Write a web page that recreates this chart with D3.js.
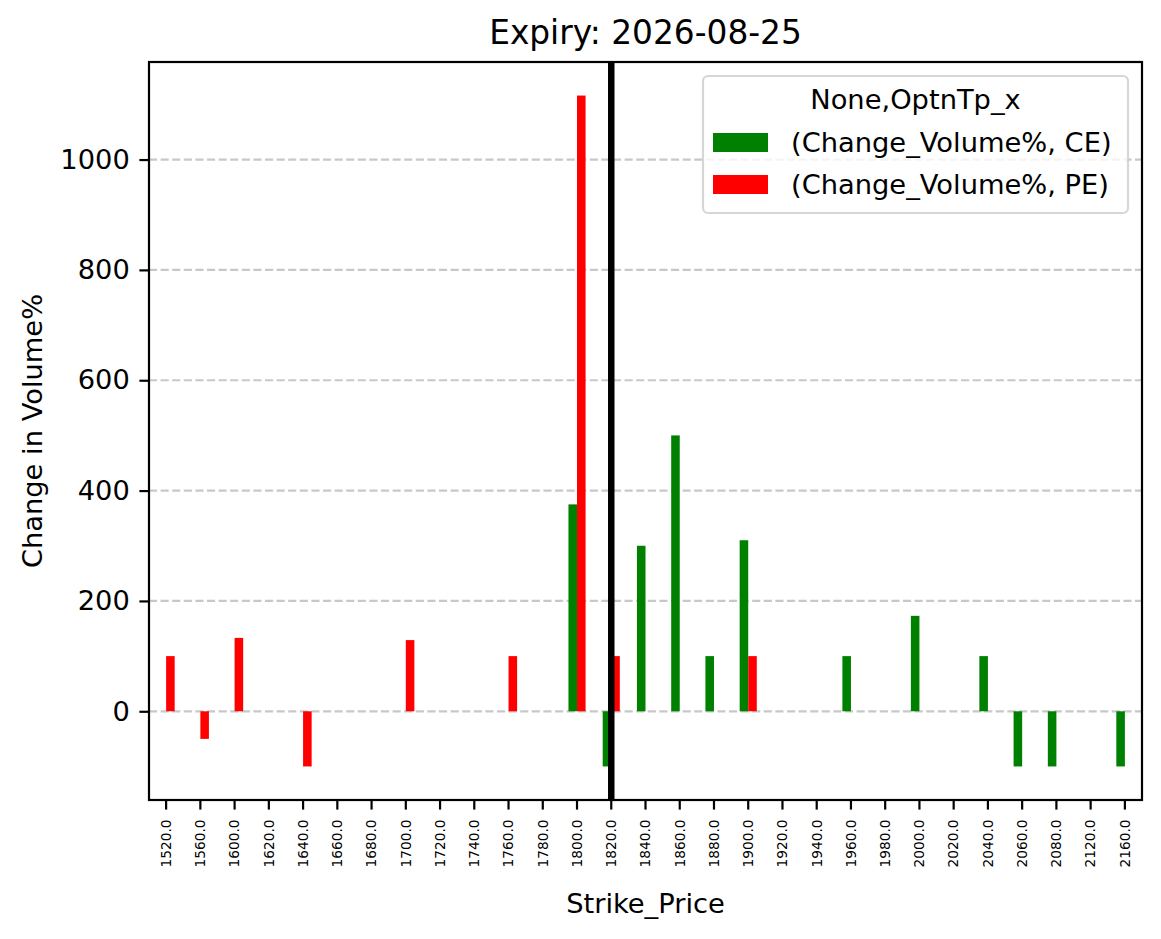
<!DOCTYPE html>
<html>
<head>
<meta charset="utf-8">
<script src="https://cdn.jsdelivr.net/npm/d3@7"></script>
<style>
  html, body { margin: 0; padding: 0; background: #ffffff; }
  svg { display: block; font-family: "DejaVu Sans", sans-serif; }
</style>
</head>
<body>
<svg id="chart" width="1161" height="939"></svg>
<script>
// ---- data ----
const strikes = ["1520.0","1560.0","1600.0","1620.0","1640.0","1660.0","1680.0","1700.0","1720.0","1740.0",
  "1760.0","1780.0","1800.0","1820.0","1840.0","1860.0","1880.0","1900.0","1920.0","1940.0",
  "1960.0","1980.0","2000.0","2020.0","2040.0","2060.0","2080.0","2120.0","2160.0"];
const ceValues = [null,null,null,null,null,null,null,null,null,null,
  null,null,375,-100,300,500,100,310,null,null,
  100,null,173,null,100,-100,-100,null,-100];
const peValues = [100,-50,133,null,-100,null,null,129,null,null,
  100,null,1116,100,null,null,null,100,null,null,
  null,null,null,null,null,null,null,null,null];
const seriesNames = ["(Change_Volume%, CE)", "(Change_Volume%, PE)"];
const seriesKeys = ["CE", "PE"];
const seriesColors = ["#008000", "#ff0000"];
const yTicks = [0, 200, 400, 600, 800, 1000];
const spotStrike = "1820.0";
const titleText = "Expiry: 2026-08-25";
const xLabel = "Strike_Price";
const yLabel = "Change in Volume%";
const legendTitle = "None,OptnTp_x";

// ---- layout ----
const svg = d3.select("#chart");
const L = 149, R = 1142, T = 62, B = 800;

const x = d3.scaleBand().domain(strikes).range([L, R]).paddingInner(0).paddingOuter(0);
const bw = x.bandwidth();
const xi = d3.scaleBand().domain(seriesKeys).range([bw * 0.25, bw * 0.75]);

const allVals = ceValues.concat(peValues).filter(v => v !== null);
const [mn, mx] = d3.extent(allVals);
const pad = (mx - mn) * 0.05;
const y = d3.scaleLinear().domain([mn - pad, mx + pad]).range([B, T]);

// gridlines
const grid = svg.append("g");
yTicks.forEach(t => {
  grid.append("line")
    .attr("x1", L).attr("x2", R)
    .attr("y1", y(t)).attr("y2", y(t))
    .attr("stroke", "#b0b0b0").attr("stroke-opacity", 0.7)
    .attr("stroke-width", 2.2)
    .attr("stroke-dasharray", "8.1,3.5");
});

// bars
const rows = strikes.map((s, i) => ({ s, CE: ceValues[i], PE: peValues[i] }));
seriesKeys.forEach((k, si) => {
  svg.append("g").selectAll("rect")
    .data(rows.filter(r => r[k] !== null))
    .join("rect")
    .attr("x", d => x(d.s) + xi(k))
    .attr("width", xi.bandwidth())
    .attr("y", d => Math.min(y(d[k]), y(0)))
    .attr("height", d => Math.abs(y(d[k]) - y(0)))
    .attr("fill", seriesColors[si]);
});

// vertical spot line
const vx = x(spotStrike) + bw / 2;
svg.append("line")
  .attr("x1", vx).attr("x2", vx).attr("y1", T).attr("y2", B)
  .attr("stroke", "#000").attr("stroke-width", 6.5);

// y axis
const yAxis = d3.axisLeft(y).tickValues(yTicks).tickFormat(d3.format("d")).tickSize(9.6).tickPadding(9.6);
const gy = svg.append("g").attr("transform", `translate(${L},0)`).call(yAxis);
gy.select(".domain").remove();
gy.selectAll(".tick line").attr("stroke", "#000").attr("stroke-width", 2.2);
gy.selectAll(".tick text").attr("font-size", 27.3).attr("font-family", "DejaVu Sans").attr("fill", "#000");

// x axis
const xAxis = d3.axisBottom(x).tickSize(9.6).tickPadding(0);
const gx = svg.append("g").attr("transform", `translate(0,${B})`).call(xAxis);
gx.select(".domain").remove();
gx.selectAll(".tick line").attr("stroke", "#000").attr("stroke-width", 2.2);
gx.selectAll(".tick text")
  .attr("font-size", 13.7).attr("font-family", "DejaVu Sans").attr("fill", "#000")
  .attr("text-anchor", "end")
  .attr("transform", "translate(0,19.5) rotate(-90)")
  .attr("x", 0).attr("y", 0).attr("dy", "0.35em");

// frame
svg.append("rect")
  .attr("x", L).attr("y", T).attr("width", R - L).attr("height", B - T)
  .attr("fill", "none").attr("stroke", "#000").attr("stroke-width", 2.2);

// title & labels
svg.append("text").attr("x", (L + R) / 2).attr("y", 44)
  .attr("text-anchor", "middle").attr("font-size", 32.8).text(titleText);
svg.append("text").attr("x", (L + R) / 2).attr("y", 913)
  .attr("text-anchor", "middle").attr("font-size", 27.3).text(xLabel);
svg.append("text").attr("transform", `translate(42,${(T + B) / 2}) rotate(-90)`)
  .attr("text-anchor", "middle").attr("font-size", 27.3).text(yLabel);

// legend
const lg = svg.append("g");
lg.append("rect")
  .attr("x", 703).attr("y", 76).attr("width", 425).attr("height", 137)
  .attr("rx", 5).attr("ry", 5)
  .attr("fill", "#fff").attr("fill-opacity", 0.8)
  .attr("stroke", "#cccccc").attr("stroke-opacity", 0.8).attr("stroke-width", 2.2);
lg.append("text").attr("x", 915.5).attr("y", 109)
  .attr("text-anchor", "middle").attr("font-size", 27.3).text(legendTitle);
seriesNames.forEach((name, i) => {
  const cy = 142.5 + i * 42;
  lg.append("rect").attr("x", 713).attr("y", cy - 9.5).attr("width", 55).attr("height", 19)
    .attr("fill", seriesColors[i]);
  lg.append("text").attr("x", 791).attr("y", cy + 9.5)
    .attr("font-size", 27.3).text(name);
});
</script>
</body>
</html>
